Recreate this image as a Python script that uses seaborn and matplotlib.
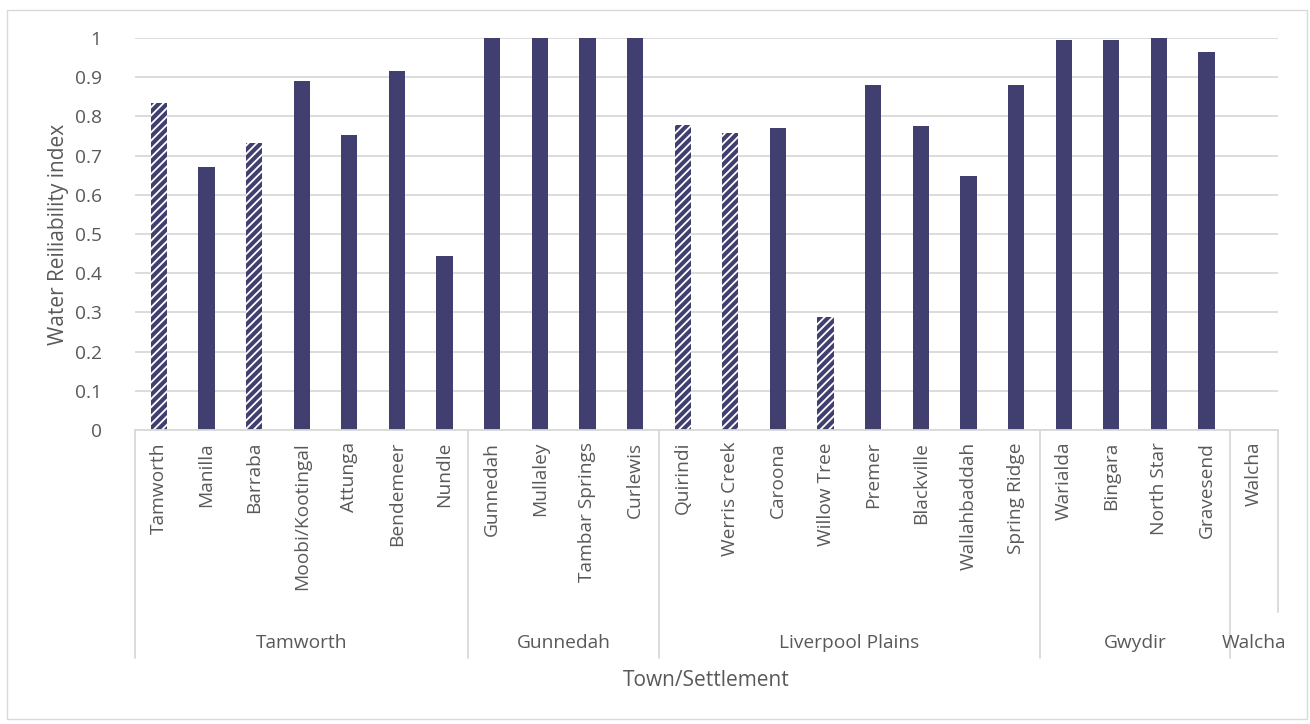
import matplotlib
matplotlib.use("Agg")
import matplotlib.pyplot as plt
import seaborn as sns
import pandas as pd
from matplotlib.lines import Line2D
from matplotlib.patches import Rectangle

towns = ["Tamworth", "Manilla", "Barraba", "Moobi/Kootingal", "Attunga", "Bendemeer", "Nundle",
         "Gunnedah", "Mullaley", "Tambar Springs", "Curlewis",
         "Quirindi", "Werris Creek", "Caroona", "Willow Tree", "Premer", "Blackville",
         "Wallahbaddah", "Spring Ridge",
         "Warialda", "Bingara", "North Star", "Gravesend",
         "Walcha"]
groups = ["Tamworth"] * 7 + ["Gunnedah"] * 4 + ["Liverpool Plains"] * 8 + ["Gwydir"] * 4 + ["Walcha"]
values = [0.834, 0.671, 0.732, 0.890, 0.753, 0.916, 0.444,
          1.0, 1.0, 1.0, 1.0,
          0.778, 0.758, 0.770, 0.288, 0.880, 0.776, 0.648, 0.880,
          0.995, 0.995, 1.0, 0.965,
          0.0]
hatched = [True, False, True, False, False, False, False,
           False, False, False, False,
           True, True, False, True, False, False, False, False,
           False, False, False, False,
           False]
yticks = [0, 0.1, 0.2, 0.3, 0.4, 0.5, 0.6, 0.7, 0.8, 0.9, 1]
ytick_labels = ["0", "0.1", "0.2", "0.3", "0.4", "0.5", "0.6", "0.7", "0.8", "0.9", "1"]

df = pd.DataFrame({"town": towns, "value": values})

sns.set_theme(style="white")
plt.rcParams["font.family"] = ["Open Sans", "DejaVu Sans"]
plt.rcParams["hatch.linewidth"] = 1.3

BAR = "#403F6F"
GRID = "#D9D9D9"
TXT = "#595959"
FS = 13.8

W, H = 1310, 724
fig = plt.figure(figsize=(W / 100, H / 100), dpi=100)
fig.patch.set_facecolor("white")
fig.add_artist(Rectangle((7 / W, 1 - 719 / H), (1307 - 7) / W, (719 - 10) / H,
                         transform=fig.transFigure, fill=False, edgecolor=GRID, lw=1))

x0, x1, ytop, ybot = 135, 1278, 38, 430
ax = fig.add_axes([x0 / W, 1 - ybot / H, (x1 - x0) / W, (ybot - ytop) / H])

sns.barplot(data=df, x="town", y="value", color=BAR, width=0.34, saturation=1, ax=ax,
            order=towns, linewidth=0)
for patch, h in zip(ax.patches, hatched):
    if h:
        patch.set_hatch("////")
        patch.set_edgecolor("white")
        patch.set_linewidth(0)

ax.set_xlim(-0.5, len(towns) - 0.5)
ax.set_ylim(0, 1)
ax.set_yticks(yticks)
ax.set_yticklabels(ytick_labels, color=TXT, fontsize=FS)
ax.yaxis.grid(True, color=GRID, lw=1.3)
ax.set_axisbelow(True)
for s in ["top", "right", "left"]:
    ax.spines[s].set_visible(False)
ax.spines["bottom"].set_color(GRID)
ax.spines["bottom"].set_linewidth(1.3)
ax.tick_params(axis="y", length=0, pad=24)
ax.set_xticks([])
ax.set_xlabel("")
ax.set_ylabel("Water Reiliability index", color=TXT, fontsize=FS + 1.2, labelpad=4)

trans = ax.get_xaxis_transform()
px = 1.0 / (ybot - ytop)  # axes fraction per pixel

# category labels
for i, t in enumerate(towns):
    ax.text(i, -12 * px, t, rotation=90, ha="center", va="top", color=TXT,
            fontsize=FS, transform=trans, clip_on=False)

# group separators and labels
bounds = [0]
for i in range(1, len(groups)):
    if groups[i] != groups[i - 1]:
        bounds.append(i)
bounds.append(len(groups))
for b in bounds[:-1]:
    ax.add_line(Line2D([b - 0.5, b - 0.5], [0, -(658 - ybot) * px], transform=trans,
                       color=GRID, lw=1.3, clip_on=False))
ax.add_line(Line2D([len(groups) - 0.5, len(groups) - 0.5], [0, -(612 - ybot) * px],
                   transform=trans, color=GRID, lw=1.3, clip_on=False))
for a, b in zip(bounds[:-1], bounds[1:]):
    ax.text((a + b - 1) / 2, -(643 - ybot) * px, groups[a], ha="center", va="center",
            color=TXT, fontsize=FS, transform=trans, clip_on=False)

ax.text(0.5, -(680 - ybot) * px, "Town/Settlement", ha="center", va="center",
        color=TXT, fontsize=FS + 1.2, transform=ax.transAxes, clip_on=False)

fig.savefig("out.png", dpi=100, facecolor="white")
